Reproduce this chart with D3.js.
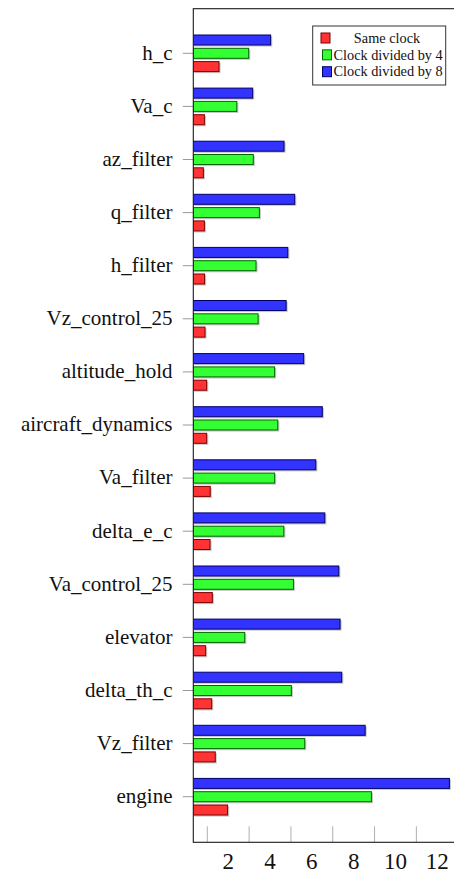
<!DOCTYPE html>
<html>
<head>
<meta charset="utf-8">
<script src="https://cdn.jsdelivr.net/npm/d3@7"></script>
<style>
  body { margin: 0; background: #fff; }
  svg { display: block; }
  .serif { font-family: "Liberation Serif", "Times New Roman", Tinos, "DejaVu Serif", serif; }
</style>
</head>
<body>
<div id="chart"></div>
<script>
// component names, top to bottom
let components = [
    "h_c", "Va_c", "az_filter", "q_filter", "h_filter", "Vz_control_25",
    "altitude_hold", "aircraft_dynamics", "Va_filter", "delta_e_c",
    "Va_control_25", "elevator", "delta_th_c", "Vz_filter", "engine"
];

let sameClock = [1.56, 0.86, 0.81, 0.86, 0.87, 0.89, 0.97, 0.97, 1.14, 1.13, 1.24, 0.92, 1.21, 1.38, 1.97];
let clockDiv4 = [2.98, 2.41, 3.20, 3.49, 3.33, 3.43, 4.22, 4.37, 4.22, 4.66, 5.12, 2.79, 5.02, 5.66, 8.85];
let clockDiv8 = [4.03, 3.17, 4.67, 5.18, 4.85, 4.77, 5.61, 6.50, 6.19, 6.62, 7.29, 7.35, 7.43, 8.55, 12.58];

let seriesNames = ["Same clock", "Clock divided by 4", "Clock divided by 8"];
let xTickLabels = [2, 4, 6, 8, 10, 12];
let xTickMarks = [1, 3, 5, 7, 9, 11];

class barChart {

    constructor(parentElement){
        this.parentElement = parentElement;
        this.initVis();
    }

    initVis(){
        let vis = this;
        vis.width = 454;
        vis.height = 876;

        vis.left = 193.3;
        vis.top = 8.7;
        vis.bottom = 842.3;

        vis.svg = d3.select("#" + vis.parentElement)
            .append("svg")
            .attr("width", vis.width)
            .attr("height", vis.height);

        vis.x = d3.scaleLinear()
            .domain([0.33, 12.8])
            .range([vis.left, 454]);

        vis.y = d3.scalePoint()
            .domain(components)
            .range([53.3, 796.7]);

        // offset of each series inside a group (blue on top, red at bottom)
        vis.offset = d3.scalePoint()
            .domain(["Clock divided by 8", "Clock divided by 4", "Same clock"])
            .range([-13.3, 13.3]);

        vis.fill = d3.scaleOrdinal()
            .domain(seriesNames)
            .range(["#ff3333", "#33ff33", "#3333ff"]);
        vis.stroke = d3.scaleOrdinal()
            .domain(seriesNames)
            .range(["#7a0000", "#006600", "#000066"]);

        vis.wrangleData();
    }

    wrangleData(){
        let vis = this;
        let values = [sameClock, clockDiv4, clockDiv8];
        vis.bars = [];
        seriesNames.forEach(function(s, i){
            components.forEach(function(c, j){
                vis.bars.push({series: s, name: c, value: values[i][j]});
            });
        });
        vis.updateVis();
    }

    updateVis(){
        let vis = this;
        let barH = 10;

        vis.svg.append("defs").append("clipPath").attr("id", "plotclip")
            .append("rect")
            .attr("x", vis.left).attr("y", vis.top)
            .attr("width", 300).attr("height", vis.bottom - vis.top);

        // bottom tick marks (inside, gray)
        vis.svg.append("g")
            .selectAll("line")
            .data(xTickMarks)
            .join("line")
            .attr("x1", d => vis.x(d)).attr("x2", d => vis.x(d))
            .attr("y1", vis.bottom - 16).attr("y2", vis.bottom)
            .attr("stroke", "#b0b0b0")
            .attr("stroke-width", 1);

        // y tick marks (outside, gray)
        vis.svg.append("g")
            .selectAll("line")
            .data(components)
            .join("line")
            .attr("x1", vis.left - 10.5).attr("x2", vis.left)
            .attr("y1", d => vis.y(d)).attr("y2", d => vis.y(d))
            .attr("stroke", "#999")
            .attr("stroke-width", 1);

        let plot = vis.svg.append("g").attr("clip-path", "url(#plotclip)");

        // soft shadow under bars
        plot.append("g")
            .selectAll("rect")
            .data(vis.bars)
            .join("rect")
            .attr("x", vis.left + 1)
            .attr("y", d => vis.y(d.name) + vis.offset(d.series) - barH / 2 + 1.2)
            .attr("width", d => vis.x(d.value) - vis.left + 0.6)
            .attr("height", barH + 0.4)
            .attr("fill", "#000")
            .attr("opacity", 0.22);

        plot.append("g")
            .selectAll("rect")
            .data(vis.bars)
            .join("rect")
            .attr("x", vis.left)
            .attr("y", d => vis.y(d.name) + vis.offset(d.series) - barH / 2)
            .attr("width", d => vis.x(d.value) - vis.left)
            .attr("height", barH)
            .attr("fill", d => vis.fill(d.series))
            .attr("stroke", d => vis.stroke(d.series))
            .attr("stroke-width", 1);

        // frame
        vis.svg.append("rect")
            .attr("x", vis.left).attr("y", vis.top)
            .attr("width", 300).attr("height", vis.bottom - vis.top)
            .attr("fill", "none")
            .attr("stroke", "#1a1a1a")
            .attr("stroke-width", 1.1);

        // y labels
        vis.svg.append("g")
            .attr("class", "serif")
            .attr("font-size", "21px")
            .attr("fill", "#111")
            .attr("text-anchor", "end")
            .selectAll("text")
            .data(components)
            .join("text")
            .attr("x", 172.5)
            .attr("y", d => vis.y(d))
            .attr("dy", "0.3em")
            .text(d => d);

        // x tick labels
        vis.svg.append("g")
            .attr("class", "serif")
            .attr("font-size", "23px")
            .attr("fill", "#111")
            .attr("text-anchor", "middle")
            .selectAll("text")
            .data(xTickLabels)
            .join("text")
            .attr("x", d => vis.x(d))
            .attr("y", 868.5)
            .text(d => d);

        // legend
        let legend = vis.svg.append("g")
            .attr("class", "serif")
            .attr("font-size", "14.3px")
            .attr("fill", "#111");

        legend.append("rect")
            .attr("x", 312.7).attr("y", 26)
            .attr("width", 133).attr("height", 59)
            .attr("fill", "#fff")
            .attr("stroke", "#333")
            .attr("stroke-width", 1);

        let legendY = d3.scalePoint().domain(seriesNames).range([38, 71.7]);

        legend.selectAll("rect.key")
            .data(seriesNames)
            .join("rect")
            .attr("class", "key")
            .attr("x", d => d === "Same clock" ? 321 : 322.5)
            .attr("y", d => legendY(d) - 5)
            .attr("width", 9).attr("height", 10)
            .attr("fill", d => vis.fill(d))
            .attr("stroke", d => vis.stroke(d));

        legend.selectAll("text")
            .data(seriesNames)
            .join("text")
            .attr("x", d => d === "Same clock" ? 387 : 333.5)
            .attr("text-anchor", d => d === "Same clock" ? "middle" : "start")
            .attr("y", d => legendY(d))
            .attr("dy", "0.33em")
            .text(d => d);

        return vis.svg.node();
    }
}

new barChart("chart");
</script>
</body>
</html>
